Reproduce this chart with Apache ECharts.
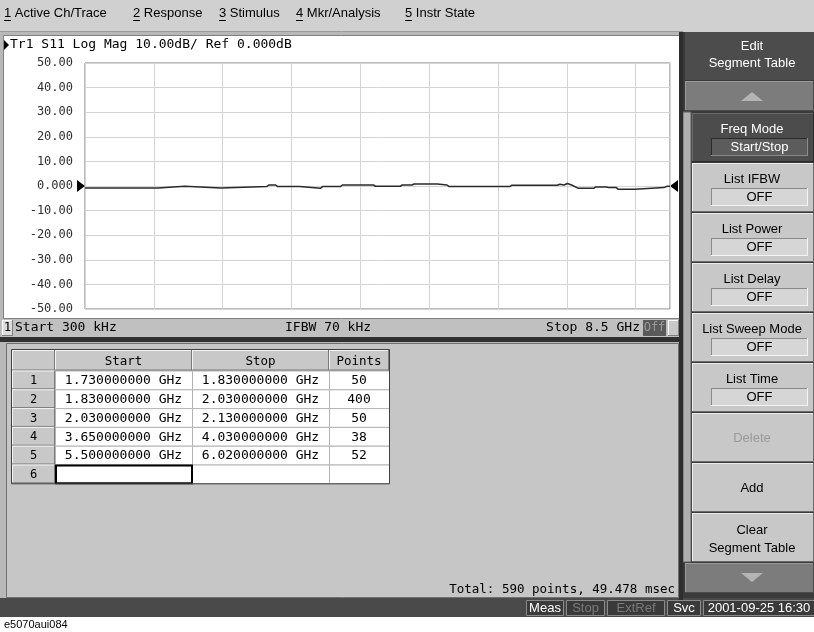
<!DOCTYPE html>
<html><head><meta charset="utf-8">
<script src="https://cdn.jsdelivr.net/npm/echarts@6/dist/echarts.min.js"></script>
<style>html,body{margin:0;padding:0;background:#fff}#c{width:814px;height:632px}</style>
</head><body><div id="c"></div><script>
// ---------- data ----------
const menuItems = ['1 Active Ch/Trace', '2 Response', '3 Stimulus', '4 Mkr/Analysis', '5 Instr State'];
const traceTitle = 'Tr1 S11 Log Mag 10.00dB/ Ref 0.000dB';
const yTickValues = [50, 40, 30, 20, 10, 0, -10, -20, -30, -40, -50];
const yTickLabels = ['50.00', '40.00', '30.00', '20.00', '10.00', '0.000', '-10.00', '-20.00', '-30.00', '-40.00', '-50.00'];
const traceFreqGHz = [0.0003, 1.06, 1.07, 1.45, 1.46, 1.97, 1.99, 2.64, 2.67, 2.77, 2.80, 3.12, 3.14, 3.42, 3.45, 3.71, 3.74, 4.19, 4.22, 4.58, 4.61, 4.75, 4.78, 5.12, 5.14, 5.26, 5.29, 6.17, 6.20, 6.86, 6.90, 6.96, 7.01, 7.07, 7.17, 7.39, 7.42, 7.58, 7.61, 7.72, 7.75, 7.99, 8.01, 8.41, 8.46, 8.5];
const traceDb = [-0.8, -0.8, -0.1, -0.1, -0.8, -0.8, -0.25, -0.25, 0.4, 0.4, -0.25, -0.25, -0.95, -0.95, -0.25, -0.25, 0.4, 0.4, -0.1, -0.1, 0.4, 0.4, 0.8, 0.8, 0.4, 0.4, -0.25, -0.25, 0.3, 0.3, 0.7, 0.4, 1.0, 0.4, -0.95, -0.95, -0.4, -0.4, -0.65, -0.65, -1.35, -1.35, -0.65, -0.65, -0.1, -0.1];
const statusStart = 'Start 300 kHz';
const statusIfbw = 'IFBW 70 kHz';
const statusStop = 'Stop 8.5 GHz';
const tableHeaders = ['', 'Start', 'Stop', 'Points'];
const segIndex = ['1', '2', '3', '4', '5', '6'];
const segStart = ['1.730000000 GHz', '1.830000000 GHz', '2.030000000 GHz', '3.650000000 GHz', '5.500000000 GHz', ''];
const segStop = ['1.830000000 GHz', '2.030000000 GHz', '2.130000000 GHz', '4.030000000 GHz', '6.020000000 GHz', ''];
const segPoints = ['50', '400', '50', '38', '52', ''];
const totalText = 'Total: 590 points, 49.478 msec';
const softkeyHeader = ['Edit', 'Segment Table'];
const softkeyLabels = [['Freq Mode'], ['List IFBW'], ['List Power'], ['List Delay'], ['List Sweep Mode'], ['List Time'], ['Delete'], ['Add'], ['Clear', 'Segment Table']];
const softkeyValues = ['Start/Stop', 'OFF', 'OFF', 'OFF', 'OFF', 'OFF', '', '', ''];
const statusBoxes = ['Meas', 'Stop', 'ExtRef', 'Svc', '2001-09-25 16:30'];
const captionText = 'e5070aui084';

// ---------- drawing helpers ----------
const MONO = '"DejaVu Sans Mono", monospace';
const SANS = '"Liberation Sans", Arial, sans-serif';
const G = [];
function rect(x, y, w, h, fill, stroke, z) {
  G.push({ type: 'rect', silent: true, z: z || 0, shape: { x: x, y: y, width: w, height: h }, style: { fill: fill || 'none', stroke: stroke || null, lineWidth: 1 } });
}
function ln(x1, y1, x2, y2, c, w, z) {
  G.push({ type: 'line', silent: true, z: z || 1, shape: { x1: x1, y1: y1, x2: x2, y2: y2 }, style: { stroke: c, lineWidth: w || 1 } });
}
function txt(x, y, s, font, fill, align, z) {
  G.push({ type: 'text', silent: true, z: z || 2, x: x, y: y, style: { text: s, font: font, fill: fill || '#000', align: align || 'left', verticalAlign: 'middle' } });
}
function poly(pts, fill, z) {
  G.push({ type: 'polygon', silent: true, z: z || 2, shape: { points: pts }, style: { fill: fill } });
}
function bevel(x, y, w, h, fill, light, dark, z) {
  rect(x, y, w, h, fill, null, z);
  ln(x + 0.5, y + h, x + 0.5, y + 0.5, light, 1, (z || 0) + 1);
  ln(x, y + 0.5, x + w, y + 0.5, light, 1, (z || 0) + 1);
  ln(x + w - 0.5, y, x + w - 0.5, y + h, dark, 1, (z || 0) + 1);
  ln(x, y + h - 0.5, x + w, y + h - 0.5, dark, 1, (z || 0) + 1);
}

// ---------- menu bar ----------
rect(0, 0, 814, 32, '#d0d0d0');
ln(0, 31.5, 683, 31.5, '#9a9a9a');
const menuX = [4, 133, 219, 296, 405];
menuItems.forEach((m, i) => {
  txt(menuX[i], 13, m, '13px ' + SANS, '#000');
  ln(menuX[i], 20.5, menuX[i] + 7, 20.5, '#000');
});

// ---------- chart window ----------
rect(0, 32, 683, 306, '#b8b8b8');
rect(3.5, 35.5, 676, 283, '#ffffff', '#808080');
poly([[4, 40], [4, 50], [9, 45]], '#000');
txt(10, 45, traceTitle, '13px ' + MONO, '#000');

// chart status bar
rect(1, 319, 680, 18, '#c0c0c0');
bevel(2, 320, 11, 16, '#dcdcdc', '#ffffff', '#808080', 1);
txt(7.5, 328, '1', '12.5px ' + MONO, '#000', 'center', 3);
txt(15, 328, statusStart, '13px ' + MONO, '#000');
txt(285, 328, statusIfbw, '13px ' + MONO, '#000');
txt(640, 328, statusStop, '13px ' + MONO, '#000', 'right');
rect(643, 320, 23, 16, '#5a5a5a', null, 1);
txt(654.5, 328, 'Off', '12px ' + MONO, '#9a9a9a', 'center', 3);
bevel(668, 320, 11, 16, '#c8c8c8', '#ffffff', '#808080', 1);

// separator
rect(0, 337, 683, 5, '#303030');

// ---------- table panel ----------
rect(0, 342, 683, 258, '#b8b8b8');
rect(6.5, 343.5, 672, 254, '#c6c6c6', '#707070');
const colX = [12, 55, 192, 329, 389];
const headTop = 350, headH = 20.5, rowH = 18.8;
for (let c = 0; c < 4; c++) {
  bevel(colX[c], headTop, colX[c + 1] - colX[c], headH, '#c8c8c8', '#f4f4f4', '#7a7a7a', 1);
  if (tableHeaders[c]) txt((colX[c] + colX[c + 1]) / 2, headTop + headH / 2 + 1, tableHeaders[c], '12.5px ' + MONO, '#000', 'center', 4);
}
segIndex.forEach((idx, r) => {
  const y = headTop + headH + r * rowH;
  bevel(colX[0], y, colX[1] - colX[0], rowH, '#c8c8c8', '#f4f4f4', '#7a7a7a', 1);
  txt((colX[0] + colX[1]) / 2, y + rowH / 2 + 1, idx, '12px ' + MONO, '#000', 'center', 4);
  const vals = [segStart[r], segStop[r], segPoints[r]];
  for (let c = 1; c < 4; c++) {
    rect(colX[c] + 0.5, y + 0.5, colX[c + 1] - colX[c], rowH, '#ffffff', '#b4b4b4', 1);
    if (vals[c - 1]) txt((colX[c] + colX[c + 1]) / 2, y + rowH / 2 + 1, vals[c - 1], '13px ' + MONO, '#000', 'center', 4);
  }
});
// selected cell
(function () {
  const y = headTop + headH + 5 * rowH;
  G.push({ type: 'rect', silent: true, z: 5, shape: { x: colX[1] + 1, y: y + 1, width: colX[2] - colX[1] - 1, height: rowH - 1 }, style: { fill: 'none', stroke: '#000', lineWidth: 2 } });
})();
rect(colX[0] - 0.5, headTop - 0.5, colX[4] - colX[0] + 1, headH + 6 * rowH + 1, 'none', '#404040', 6);
txt(675, 590, totalText, '12.5px ' + MONO, '#000', 'right');

// vertical divider chart/softkeys
rect(679, 32, 4, 568, '#2e2e2e', null, 3);

// ---------- softkeys ----------
rect(683, 32, 131, 568, '#3a3a3a');
rect(683, 112, 8, 450, '#b0b0b0', '#606060', 1);
rect(685, 32, 129, 48, '#4c4c4c', null, 1);
txt(752, 46, softkeyHeader[0], '13px ' + SANS, '#ffffff', 'center', 3);
txt(752, 63, softkeyHeader[1], '13px ' + SANS, '#ffffff', 'center', 3);
bevel(685, 81, 129, 30, '#7c7c7c', '#9a9a9a', '#4a4a4a', 1);
poly([[741, 101], [763, 101], [752, 92]], '#b4b4b4', 3);
softkeyLabels.forEach((lab, i) => {
  const top = 112 + i * 50;
  const dark = i === 0;
  const fill = dark ? '#4c4c4c' : '#c8c8c8';
  bevel(692, top + 1, 122, 49, fill, dark ? '#6a6a6a' : '#ececec', dark ? '#2a2a2a' : '#6a6a6a', 1);
  const col = dark ? '#ffffff' : (lab[0] === 'Delete' ? '#9a9a9a' : '#000');
  const v = softkeyValues[i];
  if (v) {
    txt(752, top + 17, lab[0], '13px ' + SANS, col, 'center', 4);
    bevel(711, top + 26, 97, 18, dark ? '#5c5c5c' : '#d6d6d6', dark ? '#2a2a2a' : '#8a8a8a', dark ? '#8a8a8a' : '#f4f4f4', 3);
    txt(759.5, top + 35.5, v, '13px ' + SANS, col, 'center', 6);
  } else if (lab.length === 2) {
    txt(752, top + 18, lab[0], '13px ' + SANS, col, 'center', 4);
    txt(752, top + 36, lab[1], '13px ' + SANS, col, 'center', 4);
  } else {
    txt(752, top + 26, lab[0], '13px ' + SANS, col, 'center', 4);
  }
});
bevel(685, 563, 129, 30, '#7c7c7c', '#9a9a9a', '#4a4a4a', 1);
poly([[741, 573], [763, 573], [752, 582]], '#b4b4b4', 3);

// ---------- bottom status bar ----------
rect(0, 598, 814, 19, '#4a4a4a', null, 2);
const boxX = [526, 566, 607, 667, 703];
const boxW = [37, 38, 57, 33, 111];
const boxC = ['#ffffff', '#7a7a7a', '#7a7a7a', '#ffffff', '#ffffff'];
statusBoxes.forEach((s, i) => {
  rect(boxX[i] + 0.5, 600.5, boxW[i], 15, '#3a3a3a', '#8a8a8a', 3);
  txt(boxX[i] + boxW[i] / 2 + 0.5, 608.5, s, '13px ' + SANS, boxC[i], 'center', 5);
});
rect(0, 617, 814, 15, '#ffffff', null, 2);
txt(4, 625, captionText, '11px ' + SANS, '#000', 'left', 3);

// ---------- chart ----------
const chart = echarts.init(document.getElementById('c'), null, { renderer: 'canvas' });
chart.setOption({
  animation: false,
  backgroundColor: '#ffffff',
  graphic: { elements: G },
  grid: { left: 85, top: 63, width: 585, height: 246, show: true, backgroundColor: '#ffffff', borderColor: '#7a7a7a', borderWidth: 1, z: 8 },
  xAxis: {
    type: 'value', min: 0, max: 8.5, interval: 1,
    axisLine: { show: false }, axisTick: { show: false }, axisLabel: { show: false },
    splitLine: { show: true, lineStyle: { color: '#d4d4d4', width: 1 } }, z: 9
  },
  yAxis: {
    type: 'value', min: -50, max: 50, interval: 10,
    axisLine: { show: false }, axisTick: { show: false },
    axisLabel: {
      margin: 12, color: '#303030', fontFamily: 'DejaVu Sans Mono', fontSize: 12,
      formatter: v => { const k = yTickValues.indexOf(Math.round(v)); return k >= 0 ? yTickLabels[k] : ''; }
    },
    splitLine: { show: true, lineStyle: { color: '#d4d4d4', width: 1 } }, z: 9
  },
  series: [{
    type: 'line', z: 10, silent: true, symbol: 'none',
    data: traceFreqGHz.map((f, i) => [f, traceDb[i]]),
    lineStyle: { color: '#2a2a2a', width: 1.5 },
    markPoint: {
      silent: true, label: { show: false },
      data: [
        { coord: [0, 0], symbol: 'triangle', symbolSize: [12, 8], symbolRotate: -90, symbolOffset: [-4, 0], itemStyle: { color: '#000' } },
        { coord: [8.5, 0], symbol: 'triangle', symbolSize: [12, 8], symbolRotate: 90, symbolOffset: [4, 0], itemStyle: { color: '#000' } }
      ]
    }
  }]
});
</script></body></html>
